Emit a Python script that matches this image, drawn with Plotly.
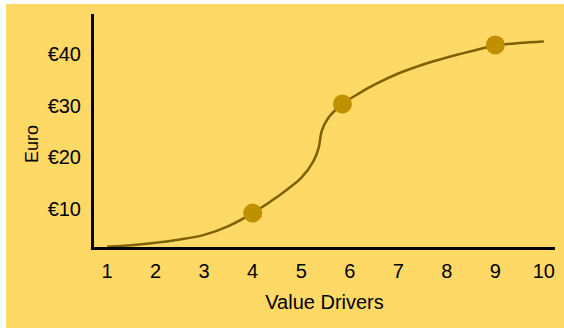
import plotly.graph_objects as go

curve_x = [1, 1.5, 2, 2.5, 3, 3.5, 4, 4.5, 5.0, 5.25, 5.36, 5.42, 5.55, 5.85, 6.2, 6.5, 7, 7.5, 8, 8.5, 9, 9.5, 10]
curve_y = [2.7, 3.0, 3.45, 4.1, 5.0, 6.7, 9.2, 12.3, 16.0, 19.2, 21.8, 25.0, 27.5, 30.3, 32.4, 34.0, 36.2, 37.9, 39.3, 40.5, 41.6, 42.1, 42.4]
point_x = [4, 5.85, 9]
point_y = [9.2, 30.3, 41.7]
y_ticks = [10, 20, 30, 40]
y_labels = ["€10", "€20", "€30", "€40"]
x_ticks = list(range(1, 11))

W, H = 564, 328
L, R, T, B = 94, 9, 14, 81
pw, ph = W - L - R, H - T - B

fig = go.Figure()
fig.add_trace(go.Scatter(x=curve_x, y=curve_y, mode="lines",
                         line=dict(color="#7F6000", width=2.5, shape="spline", smoothing=0.9),
                         hoverinfo="skip", showlegend=False))
fig.add_trace(go.Scatter(x=point_x, y=point_y, mode="markers",
                         marker=dict(color="#BF9000", size=19), showlegend=False))

fig.add_shape(type="rect", xref="paper", yref="paper",
              x0=(6 - L) / pw, x1=(W - L) / pw + 0.01,
              y0=-B / ph - 0.01, y1=((H - B) - 4) / ph,
              fillcolor="#FFD966", line=dict(width=0), layer="below")

fam = "Liberation Sans, Arial, sans-serif"
font = dict(family=fam, size=20, color="#000000")
fig.update_layout(
    width=W, height=H, margin=dict(l=L, r=R, t=T, b=B),
    paper_bgcolor="white", plot_bgcolor="rgba(0,0,0,0)",
    font=font,
    xaxis=dict(range=[0.73, 10.23], tickvals=x_ticks, showgrid=False, zeroline=False,
               showline=True, linecolor="black", linewidth=3,
               ticks="outside", ticklen=4, tickcolor="rgba(0,0,0,0)",
               title=dict(text="Value Drivers", font=font, standoff=14)),
    yaxis=dict(range=[2.65, 47.7], tickvals=y_ticks, ticktext=y_labels, showgrid=False, zeroline=False,
               showline=True, linecolor="black", linewidth=3,
               ticks="outside", ticklen=6, tickcolor="rgba(0,0,0,0)"),
)
fig.add_annotation(text="Euro", xref="paper", yref="paper",
                   x=(32 - L) / pw, y=(H - B - 144) / ph, textangle=-90,
                   showarrow=False, xanchor="center", yanchor="middle",
                   font=dict(family=fam, size=18, color="black"))
fig.write_html("out.html")
